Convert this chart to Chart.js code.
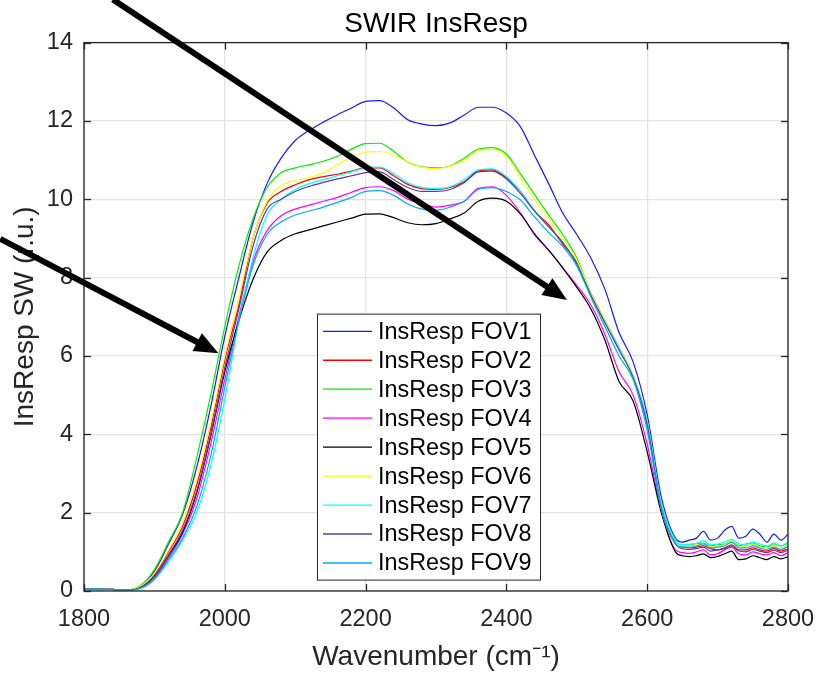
<!DOCTYPE html>
<html>
<head>
<meta charset="utf-8">
<script src="https://cdn.jsdelivr.net/npm/chart.js@4.4.1/dist/chart.umd.min.js"></script>
<style>
  html, body { margin:0; background:#fff; }
  #wrap { width:820px; height:678px; }
</style>
</head>
<body>
<div id="wrap"><canvas id="c" width="820" height="678"></canvas></div>
<script>
/* -------- data -------- */
const WAVENUMBER = [
  1800,1820,1840,1860,1880,1900,1920,1940,1960,1980,
  2000,2020,2040,2060,2080,2100,2120,2140,2160,2180,
  2200,2220,2240,2260,2280,2300,2320,2340,2360,2380,
  2400,2420,2440,2460,2480,2500,2520,2540,2560,2580,
  2600,2620,2640,
  2650,2660,2670,2680,2690,2700,2710,2720,2730,2740,2750,2760,2770,2780,2790,2800,
];

const FOV1 = [
  0.05,0.05,0.04,0.02,0.12,0.5,1.2,1.95,3.15,4.7,
  6.5,8.0,9.4,10.4,11.05,11.5,11.76,11.97,12.16,12.33,
  12.5,12.52,12.33,12.03,11.92,11.88,11.95,12.15,12.35,12.35,
  12.2,11.85,11.12,10.4,9.65,9.1,8.5,7.7,6.6,5.85,
  4.5,2.4,1.35,
  1.25,1.3,1.35,1.52,1.3,1.35,1.55,1.65,1.35,1.4,1.58,1.45,1.25,1.45,1.3,1.45,
];
const FOV2 = [
  0.05,0.05,0.04,0.02,0.1,0.42,1.0,1.65,2.7,4.15,
  5.9,7.3,9.0,9.9,10.2,10.37,10.5,10.58,10.64,10.72,
  10.8,10.8,10.6,10.38,10.27,10.25,10.3,10.45,10.72,10.75,
  10.55,10.2,9.7,9.35,8.85,8.4,7.6,6.9,6.2,5.48,
  4.3,2.1,1.22,
  1.12,1.1,1.12,1.15,1.08,1.05,1.1,1.18,1.05,1.05,1.1,1.05,1.02,1.08,1.02,1.08,
];
const FOV3 = [
  0.05,0.05,0.04,0.02,0.14,0.55,1.25,2.0,3.4,5.0,
  6.75,8.3,9.5,10.3,10.68,10.8,10.88,10.97,11.1,11.28,
  11.42,11.43,11.22,10.95,10.83,10.8,10.85,11.05,11.28,11.32,
  11.15,10.65,10.12,9.6,9.1,8.5,7.6,6.9,6.2,5.5,
  4.3,2.15,1.25,
  1.15,1.18,1.2,1.22,1.15,1.18,1.2,1.28,1.15,1.2,1.22,1.15,1.12,1.2,1.15,1.22,
];
const FOV4 = [
  0.05,0.05,0.04,0.02,0.09,0.33,0.85,1.45,2.35,3.75,
  5.4,7.0,8.4,9.2,9.58,9.75,9.85,9.95,10.05,10.18,
  10.3,10.32,10.22,10.0,9.9,9.8,9.85,9.95,10.28,10.32,
  10.1,9.65,9.1,8.7,8.25,7.8,7.3,6.55,5.6,5.0,
  3.75,2.05,1.05,
  0.98,0.96,1.0,1.05,0.92,0.95,1.05,1.12,0.95,0.92,1.0,0.95,0.92,0.98,0.9,0.98,
];
const FOV5 = [
  0.05,0.05,0.04,0.02,0.1,0.38,0.9,1.5,2.5,3.95,
  5.6,6.9,7.95,8.65,8.95,9.12,9.22,9.32,9.42,9.52,
  9.62,9.63,9.53,9.4,9.35,9.38,9.5,9.65,9.95,10.03,
  9.95,9.62,9.12,8.7,8.25,7.75,7.2,6.4,5.35,4.85,
  3.55,2.0,1.0,
  0.9,0.88,0.9,0.95,0.85,0.88,0.95,1.02,0.8,0.82,0.9,0.85,0.8,0.88,0.82,0.88,
];
const FOV6 = [
  0.05,0.05,0.04,0.02,0.12,0.45,1.05,1.75,2.85,4.3,
  6.0,7.5,9.0,9.95,10.35,10.48,10.55,10.68,10.88,11.07,
  11.2,11.22,11.13,10.95,10.82,10.78,10.85,11.0,11.25,11.28,
  11.1,10.55,10.0,9.5,9.0,8.45,7.6,6.9,6.2,5.5,
  4.25,2.1,1.22,
  1.15,1.15,1.18,1.2,1.12,1.15,1.18,1.28,1.12,1.15,1.2,1.12,1.1,1.15,1.1,1.18,
];
const FOV7 = [
  0.05,0.05,0.04,0.02,0.06,0.3,0.75,1.3,2.0,3.2,
  4.9,6.9,8.5,9.6,10.0,10.25,10.4,10.5,10.6,10.7,
  10.8,10.82,10.65,10.42,10.3,10.28,10.32,10.5,10.75,10.78,
  10.58,10.2,9.72,9.3,8.9,8.35,7.55,6.85,6.2,5.45,
  4.35,2.25,1.3,
  1.18,1.2,1.22,1.28,1.18,1.2,1.25,1.32,1.2,1.18,1.25,1.2,1.15,1.22,1.15,1.25,
];
const FOV8 = [
  0.05,0.05,0.04,0.02,0.09,0.38,0.92,1.55,2.55,4.0,
  5.7,7.2,8.8,9.75,10.0,10.2,10.33,10.43,10.52,10.6,
  10.68,10.7,10.5,10.3,10.2,10.2,10.25,10.42,10.7,10.72,
  10.52,10.15,9.7,9.3,8.9,8.35,7.55,6.85,6.15,5.45,
  4.25,2.1,1.2,
  1.08,1.06,1.08,1.12,1.02,1.05,1.08,1.15,1.02,1.0,1.06,1.02,0.98,1.04,0.98,1.04,
];
const FOV9 = [
  0.05,0.05,0.04,0.02,0.07,0.3,0.8,1.35,2.15,3.45,
  5.2,6.9,8.3,9.1,9.42,9.6,9.7,9.8,9.92,10.05,
  10.2,10.22,10.1,9.88,9.75,9.72,9.8,9.95,10.25,10.3,
  10.2,9.98,9.55,9.15,8.8,8.3,7.5,6.75,6.0,5.4,
  4.1,2.15,1.22,
  1.12,1.12,1.15,1.2,1.1,1.12,1.15,1.25,1.1,1.1,1.15,1.1,1.06,1.12,1.06,1.14,
];

const SERIES = [FOV1, FOV2, FOV3, FOV4, FOV5, FOV6, FOV7, FOV8, FOV9];
const LABELS = SERIES.map((_, i) => 'InsResp FOV' + (i + 1));
const COLORS = ['#1a1aff','#ff0000','#00ee00','#ff00ff','#000000','#ffff00','#00ffff','#5e3c99','#00aaff'];

const X_TICKS = [1800, 2000, 2200, 2400, 2600, 2800];
const Y_TICKS = [0, 2, 4, 6, 8, 10, 12, 14];

// annotation arrows, in data units: [from wavenumber, from value, to wavenumber, to value]
const ARROWS = [
  [1841, 15.1, 2486, 7.43],
  [1681, 8.99, 1991, 6.07],
];

/* -------- style -------- */
const FONT = "'Liberation Sans', Arial, Helvetica, sans-serif";
const AXIS_CLR = '#262626';
const GRID_CLR = '#e3e3e3';

/* -------- frame, inward ticks, legend, arrows -------- */
const frame = {
  id: 'frame',
  afterDraw(chart) {
    const { ctx, chartArea: a, scales: { x, y } } = chart;
    const seg = (x0, y0, x1, y1) => { ctx.beginPath(); ctx.moveTo(x0, y0); ctx.lineTo(x1, y1); ctx.stroke(); };
    ctx.save();

    ctx.strokeStyle = AXIS_CLR;
    ctx.lineWidth = 1.3;
    X_TICKS.forEach(v => {
      const p = Math.round(x.getPixelForValue(v)) + 0.5;
      seg(p, a.bottom, p, a.bottom - 7);
      seg(p, a.top, p, a.top + 7);
    });
    Y_TICKS.forEach(v => {
      const p = Math.round(y.getPixelForValue(v)) + 0.5;
      seg(a.left, p, a.left + 7, p);
      seg(a.right, p, a.right - 7, p);
    });
    ctx.strokeRect(a.left, a.top, a.right - a.left, a.bottom - a.top);

    // legend box
    const lx = a.left + 233, ly = a.top + 271, lw = 223, lh = 266;
    ctx.fillStyle = '#fff';
    ctx.fillRect(lx, ly, lw, lh);
    ctx.lineWidth = 1;
    ctx.strokeStyle = AXIS_CLR;
    ctx.strokeRect(lx + 0.5, ly + 0.5, lw, lh);
    ctx.font = '23.4px ' + FONT;
    ctx.textBaseline = 'middle';
    LABELS.forEach((lab, i) => {
      const ry = ly + 17.7 + i * 28.96;
      ctx.strokeStyle = COLORS[i];
      ctx.lineWidth = 1.3;
      seg(lx + 6, ry, lx + 55, ry);
      ctx.fillStyle = '#000';
      ctx.fillText(lab, lx + 61, ry + 1);
    });

    // arrows
    ctx.fillStyle = '#000';
    ctx.strokeStyle = '#000';
    ctx.lineWidth = 6;
    ARROWS.forEach(([w0, v0, w1, v1]) => {
      const x0 = x.getPixelForValue(w0), y0 = y.getPixelForValue(v0);
      const x1 = x.getPixelForValue(w1), y1 = y.getPixelForValue(v1);
      const ang = Math.atan2(y1 - y0, x1 - x0);
      const hl = 24, hw = 10;
      const bx = x1 - hl * Math.cos(ang), by = y1 - hl * Math.sin(ang);
      seg(x0, y0, bx + 2 * Math.cos(ang), by + 2 * Math.sin(ang));
      ctx.beginPath();
      ctx.moveTo(x1, y1);
      ctx.lineTo(bx + hw * Math.sin(ang), by - hw * Math.cos(ang));
      ctx.lineTo(bx - hw * Math.sin(ang), by + hw * Math.cos(ang));
      ctx.closePath();
      ctx.fill();
    });

    ctx.restore();
  }
};

/* -------- chart -------- */
const datasets = SERIES.map((vals, i) => ({
  label: LABELS[i],
  data: WAVENUMBER.map((w, k) => ({ x: w, y: vals[k] })),
  borderColor: COLORS[i],
  borderWidth: 1.2,
  pointRadius: 0,
  cubicInterpolationMode: 'monotone',
  order: SERIES.length - i,
}));

new Chart(document.getElementById('c'), {
  type: 'line',
  data: { datasets },
  plugins: [frame],
  options: {
    responsive: false,
    animation: false,
    devicePixelRatio: 1,
    layout: { padding: { left: 0, right: 32, top: 0, bottom: 0 } },
    plugins: {
      legend: { display: false },
      tooltip: { enabled: false },
      title: {
        display: true,
        fullSize: false,
        text: 'SWIR InsResp',
        color: '#000',
        font: { family: FONT, size: 28, weight: 'normal' },
        padding: { top: 7, bottom: 2 },
      },
    },
    scales: {
      x: {
        type: 'linear', min: 1800, max: 2800,
        afterBuildTicks: s => { s.ticks = X_TICKS.map(v => ({ value: v })); },
        afterFit: s => { s.height = 87; s.paddingLeft = 0; s.paddingRight = 0; },
        ticks: { color: AXIS_CLR, font: { family: FONT, size: 23.5 }, padding: 14, maxRotation: 0,
                 callback: v => String(v) },
        grid: { color: GRID_CLR, lineWidth: 1.3, drawTicks: false },
        border: { display: false },
        title: {
          display: true, text: 'Wavenumber (cm⁻¹)', color: AXIS_CLR,
          font: { family: FONT, size: 28 }, padding: { top: 0, bottom: 4 },
        },
      },
      y: {
        min: 0, max: 14,
        afterBuildTicks: s => { s.ticks = Y_TICKS.map(v => ({ value: v })); },
        afterFit: s => { s.width = 84; },
        ticks: { color: AXIS_CLR, font: { family: FONT, size: 23.5 }, padding: 11 },
        grid: { color: GRID_CLR, lineWidth: 1.3, drawTicks: false },
        border: { display: false },
        title: {
          display: true, text: 'InsResp SW (r.u.)', color: AXIS_CLR,
          font: { family: FONT, size: 28 }, padding: { top: 8, bottom: 0 },
        },
      },
    },
  },
});
</script>
</body>
</html>
